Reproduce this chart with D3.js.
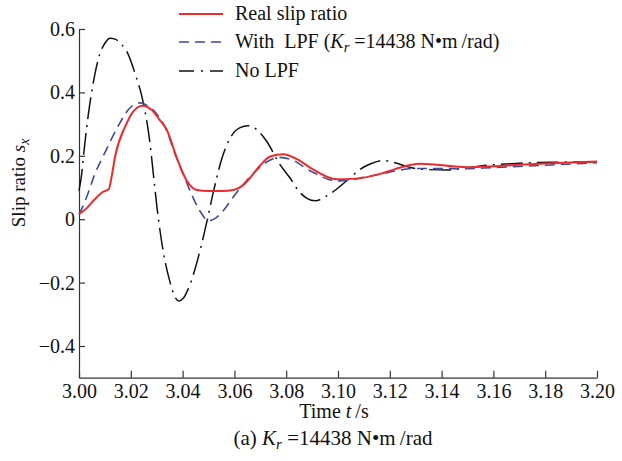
<!DOCTYPE html>
<html><head><meta charset="utf-8">
<script src="https://cdn.jsdelivr.net/npm/d3@7"></script>
<style>
body{margin:0;background:#fff;}
svg{display:block;font-family:"Liberation Serif","Times New Roman",serif;}
</style></head>
<body><svg id="c" width="622" height="461"></svg>
<script>
// ---- data ----
const xTicks = [3.00,3.02,3.04,3.06,3.08,3.10,3.12,3.14,3.16,3.18,3.20];
const xTickLabels = ["3.00","3.02","3.04","3.06","3.08","3.10","3.12","3.14","3.16","3.18","3.20"];
const yTicks = [0.6,0.4,0.2,0,-0.2,-0.4];
const yTickLabels = ["0.6","0.4","0.2","0","\u22120.2","\u22120.4"];

const realT = [3.000,3.003,3.006,3.009,3.0115,3.0125,3.014,3.018,3.021,3.0245,3.028,3.031,3.034,3.0377,3.0416,3.0455,3.050,3.055,3.060,3.063,3.066,3.070,3.0738,3.0789,3.084,3.0892,3.0995,3.107,3.1163,3.122,3.1317,3.138,3.145,3.150,3.160,3.170,3.180,3.190,3.200];
const realV = [0.016,0.035,0.062,0.085,0.095,0.13,0.20,0.295,0.34,0.358,0.345,0.315,0.28,0.195,0.121,0.092,0.089,0.089,0.093,0.105,0.13,0.17,0.198,0.205,0.19,0.163,0.126,0.128,0.143,0.158,0.175,0.172,0.166,0.164,0.167,0.172,0.176,0.179,0.182];

const lpfT = [3.000,3.002,3.0036,3.006,3.010,3.0152,3.019,3.0236,3.027,3.030,3.0339,3.0371,3.0397,3.0429,3.0467,3.050,3.053,3.056,3.060,3.064,3.068,3.072,3.0775,3.082,3.0892,3.0995,3.105,3.110,3.1163,3.122,3.129,3.138,3.148,3.160,3.174,3.190,3.200];
const lpfV = [0.015,0.05,0.084,0.14,0.21,0.295,0.345,0.367,0.355,0.332,0.279,0.205,0.153,0.089,0.026,-0.005,0.005,0.03,0.075,0.115,0.15,0.178,0.195,0.188,0.153,0.121,0.124,0.132,0.142,0.152,0.16,0.16,0.159,0.163,0.168,0.174,0.178];

const noT = [3.000,3.001,3.002,3.0036,3.0062,3.008,3.010,3.012,3.014,3.016,3.019,3.022,3.0242,3.0274,3.029,3.030,3.0327,3.0352,3.037,3.0387,3.040,3.0429,3.0467,3.0493,3.052,3.0551,3.0583,3.062,3.0654,3.069,3.0725,3.0776,3.0815,3.0847,3.088,3.0912,3.095,3.0995,3.1047,3.1085,3.1124,3.1175,3.122,3.127,3.132,3.142,3.150,3.155,3.165,3.174,3.185,3.200];
const noV = [0.09,0.14,0.22,0.33,0.46,0.52,0.555,0.571,0.568,0.555,0.52,0.45,0.39,0.24,0.12,0.045,-0.11,-0.20,-0.245,-0.258,-0.252,-0.205,-0.10,-0.01,0.09,0.19,0.255,0.288,0.295,0.28,0.245,0.172,0.13,0.09,0.066,0.058,0.07,0.095,0.131,0.157,0.174,0.185,0.178,0.165,0.158,0.155,0.162,0.168,0.174,0.178,0.18,0.181];

const seriesNames = ["Real slip ratio","With  LPF","No LPF"];

// ---- layout ----
const svg = d3.select("#c");
const x = d3.scaleLinear().domain([3.0,3.2]).range([79,597]);
const y = d3.scaleLinear().domain([-0.5,0.6]).range([377.7,29]);
const FS = 20;

const xAxis = d3.axisBottom(x).tickValues(xTicks).tickFormat((d,i)=>xTickLabels[i])
  .tickSizeInner(-7).tickSizeOuter(0).tickPadding(6);
const yAxis = d3.axisLeft(y).tickValues(yTicks).tickFormat((d,i)=>yTickLabels[i])
  .tickSizeInner(-6).tickSizeOuter(0).tickPadding(4);

const gx = svg.append("g").attr("transform","translate(0,377.7)").call(xAxis);
const gy = svg.append("g").attr("transform","translate(79,0)").call(yAxis);
[gx,gy].forEach(g=>{
  g.selectAll("path.domain").attr("stroke","#333").attr("stroke-width",1.2);
  g.selectAll(".tick line").attr("stroke","#333").attr("stroke-width",1.2);
  g.selectAll(".tick text").attr("fill","#111").style("font-size",FS+"px").style("font-family","'Liberation Serif',serif");
});
gx.selectAll(".tick text").attr("dy","0.71em");

// ---- lines ----
const line = d3.line().x(d=>x(d[0])).y(d=>y(d[1])).curve(d3.curveMonotoneX);
const zip = (a,b)=>a.map((t,i)=>[t,b[i]]);

const styles = [
  {data:zip(realT,realV), stroke:"#ee2b2b", w:2.0, dash:null},
  {data:zip(lpfT,lpfV), stroke:"#3d4ba0", w:1.6, dash:"10,6"},
  {data:zip(noT,noV), stroke:"#111", w:1.5, dash:"22,6,2,6"}
];
const plotG = svg.append("g");
[2,1,0].forEach(i=>{
  const s = styles[i];
  plotG.append("path").attr("d",line(s.data)).attr("fill","none")
    .attr("stroke",s.stroke).attr("stroke-width",s.w)
    .attr("stroke-dasharray",s.dash);
});

// ---- legend ----
const legY = [14,42,71];
const legStyles = [
  {stroke:"#ee2b2b", w:2.0, dash:null},
  {stroke:"#3d4ba0", w:1.6, dash:"10,6"},
  {stroke:"#111", w:1.5, dash:"15,7,2,7"}
];
legY.forEach((ly,i)=>{
  const s = legStyles[i];
  svg.append("line").attr("x1",179).attr("x2",223).attr("y1",ly).attr("y2",ly)
    .attr("stroke",s.stroke).attr("stroke-width",s.w).attr("stroke-dasharray",s.dash);
});
const legText = (ly)=>svg.append("text").attr("x",235).attr("y",ly+6).attr("fill","#111").style("font-size",FS+"px").style("white-space","pre");
legText(legY[0]).text(seriesNames[0]);
const t2 = legText(legY[1]);
t2.append("tspan").text(seriesNames[1]+" (");
t2.append("tspan").attr("font-style","italic").text("K");
t2.append("tspan").attr("font-style","italic").attr("font-size","0.72em").attr("dy",4).text("r");
t2.append("tspan").attr("dy",-4).text(" =14438 N\u2022m\u2009/rad)");
legText(legY[2]).text(seriesNames[2]);

// ---- axis titles ----
const xt = svg.append("text").attr("x",334).attr("y",418).attr("text-anchor","middle").attr("fill","#111").style("font-size",FS+"px").style("white-space","pre");
xt.append("tspan").text("Time ");
xt.append("tspan").attr("font-style","italic").text("t");
xt.append("tspan").text("\u2009/s");

const yt = svg.append("text").attr("transform","translate(25,183) rotate(-90)").attr("text-anchor","middle").attr("fill","#111").style("font-size","19px");
yt.append("tspan").text("Slip ratio ");
yt.append("tspan").attr("font-style","italic").text("s");
yt.append("tspan").attr("font-style","italic").attr("font-size","0.72em").attr("dy",4).text("x");

const cap = svg.append("text").attr("x",333).attr("y",445).attr("text-anchor","middle").attr("fill","#111").style("font-size","21px").style("white-space","pre");
cap.append("tspan").text("(a) ");
cap.append("tspan").attr("font-style","italic").text("K");
cap.append("tspan").attr("font-style","italic").attr("font-size","0.72em").attr("dy",4).text("r");
cap.append("tspan").attr("dy",-4).text(" =14438 N\u2022m\u2009/rad");
</script></body></html>
